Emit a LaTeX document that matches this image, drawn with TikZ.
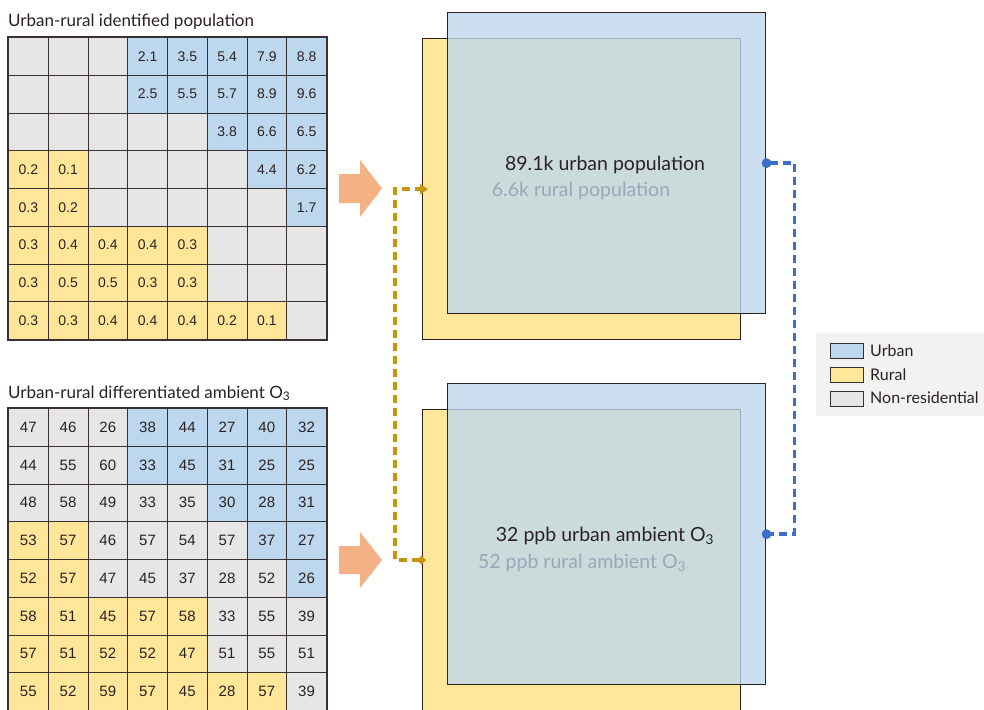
\documentclass[tikz,border=0pt]{standalone}
\usepackage{fontspec}
\setmainfont{Lato}
\newfontfamily\numfont{Liberation Sans}
\usetikzlibrary{arrows.meta}
\definecolor{cU}{HTML}{BDD7EE}
\definecolor{cR}{HTML}{FFE699}
\definecolor{cN}{HTML}{E7E6E6}
\definecolor{gridc}{HTML}{3A3030}
\definecolor{txt}{HTML}{2A2222}
\definecolor{faint}{HTML}{97A8BA}
\definecolor{arrowc}{HTML}{F4B183}
\definecolor{goldc}{HTML}{C4960E}
\definecolor{bluec}{HTML}{3C6FC8}
\definecolor{legbg}{HTML}{F2F2F0}
\begin{document}
\begin{tikzpicture}[x=1pt,y=-1pt,
  cell/.style={draw=gridc, line width=0.9pt, minimum width=39.75pt, minimum height=37.75pt,
    inner sep=0pt, anchor=north west, text=txt},
  popfont/.style={font=\numfont\fontsize{14}{16}\selectfont},
  ozfont/.style={font=\numfont\fontsize{15}{17}\selectfont},
  title/.style={anchor=base west, inner sep=0pt, text=txt, font=\fontsize{17}{20}\selectfont},
  bigbox/.style={draw=txt, line width=1.3pt, minimum width=318pt, minimum height=301pt, inner sep=0pt, anchor=north west},
  ybox/.style={bigbox, fill=cR},
  ubox/.style={bigbox, fill=cU, fill opacity=0.78},
  mainlab/.style={anchor=base, inner sep=0pt, text=txt, font=\fontsize{19.5}{22}\selectfont},
  sublab/.style={anchor=base, inner sep=0pt, text=faint, font=\fontsize{19.5}{22}\selectfont},
  fatarrow/.style={fill=arrowc},
  goldline/.style={draw=goldc, line width=3.6pt, dash pattern=on 8pt off 5pt},
  blueline/.style={draw=bluec, line width=3.6pt, dash pattern=on 8pt off 5pt},
  swatch/.style={draw=gridc, line width=1pt, minimum width=33pt, minimum height=15pt, inner sep=0pt, anchor=north west},
  leglab/.style={anchor=west, inner sep=0pt, text=txt, font=\fontsize{16}{19}\selectfont}
]
\clip (0,0) rectangle (984,709);
\fill[white] (0,0) rectangle (984,709);

% ---------- titles
\node[title] (t1) at (8,27) {Urban-rural identified population};
\node[title] (t2) at (8,398) {Urban-rural differentiated ambient O\textsubscript{3}};

% ---------- population grid
\def\popdata{{N/{},N/{},N/{},U/2.1,U/3.5,U/5.4,U/7.9,U/8.8},
{N/{},N/{},N/{},U/2.5,U/5.5,U/5.7,U/8.9,U/9.6},
{N/{},N/{},N/{},N/{},N/{},U/3.8,U/6.6,U/6.5},
{R/0.2,R/0.1,N/{},N/{},N/{},N/{},U/4.4,U/6.2},
{R/0.3,R/0.2,N/{},N/{},N/{},N/{},N/{},U/1.7},
{R/0.3,R/0.4,R/0.4,R/0.4,R/0.3,N/{},N/{},N/{}},
{R/0.3,R/0.5,R/0.5,R/0.3,R/0.3,N/{},N/{},N/{}},
{R/0.3,R/0.3,R/0.4,R/0.4,R/0.4,R/0.2,R/0.1,N/{}}}
\foreach \rowd [count=\r] in \popdata {
  \foreach \ct/\v [count=\k] in \rowd {
    \node[cell, popfont, fill=c\ct] (p-\r-\k) at ({8+(\k-1)*39.75},{37+(\r-1)*37.75}) {\v};
  }
}
\draw[gridc, line width=1.4pt] (p-1-1.north west) rectangle (p-8-8.south east);

% ---------- ozone grid
\def\ozdata{{N/47,N/46,N/26,U/38,U/44,U/27,U/40,U/32},
{N/44,N/55,N/60,U/33,U/45,U/31,U/25,U/25},
{N/48,N/58,N/49,N/33,N/35,U/30,U/28,U/31},
{R/53,R/57,N/46,N/57,N/54,N/57,U/37,U/27},
{R/52,R/57,N/47,N/45,N/37,N/28,N/52,U/26},
{R/58,R/51,R/45,R/57,R/58,N/33,N/55,N/39},
{R/57,R/51,R/52,R/52,R/47,N/51,N/55,N/51},
{R/55,R/52,R/59,R/57,R/45,R/28,R/57,N/39}}
\foreach \rowd [count=\r] in \ozdata {
  \foreach \ct/\v [count=\k] in \rowd {
    \node[cell, ozfont, fill=c\ct] (o-\r-\k) at ({8+(\k-1)*39.75},{408+(\r-1)*37.75}) {\v};
  }
}
\draw[gridc, line width=1.4pt] (o-1-1.north west) rectangle (o-8-8.south east);

% ---------- fat arrows
\fill[fatarrow] (339,174) -- (360,174) -- (360,160) -- (382,188.5) -- (360,217) -- (360,203) -- (339,203) -- cycle;
\fill[fatarrow] (339,546) -- (360,546) -- (360,532) -- (382,560) -- (360,588) -- (360,574) -- (339,574) -- cycle;

% ---------- boxes
\node[ybox] (ytop) at (422,38) {};
\node[ubox] (btop) at (447,12) {};
\node[ybox] (ybot) at (422,409) {};
\node[ubox] (bbot) at (447,383) {};

\node[mainlab] (l1) at (605,170) {89.1k urban population};
\node[sublab] (l2) at (581,196) {6.6k rural population};
\node[mainlab] (l3) at (605,541) {32 ppb urban ambient O\textsubscript{3}};
\node[sublab] (l4) at (582,568) {52 ppb rural ambient O\textsubscript{3}};

% ---------- connectors
\draw[goldline, shorten <=-4pt, shorten >=-6pt,
  {Diamond[length=9pt,width=9pt]}-{Triangle[length=8pt,width=10pt]}]
  (ybot.west) -- ++(-27,0) |- (ytop.west);
\draw[blueline, shorten <=-4.5pt, shorten >=-4.5pt,
  {Circle[length=9.5pt]}-{Circle[length=9.5pt]}]
  (btop.east) -- ++(28,0) |- (bbot.east);

% ---------- legend
\node[fill=legbg, minimum width=180pt, minimum height=83pt, inner sep=0pt, anchor=north west] (leg) at (816,333) {};
\node[swatch, fill=cU] (s1) at (830,343) {};
\node[swatch, fill=cR] (s2) at (830,367) {};
\node[swatch, fill=cN] (s3) at (830,390.5) {};
\node[leglab] (g1) at (870,350.5) {Urban};
\node[leglab] (g2) at (870,374.5) {Rural};
\node[leglab] (g3) at (870,398) {Non-residential};
\end{tikzpicture}
\end{document}
